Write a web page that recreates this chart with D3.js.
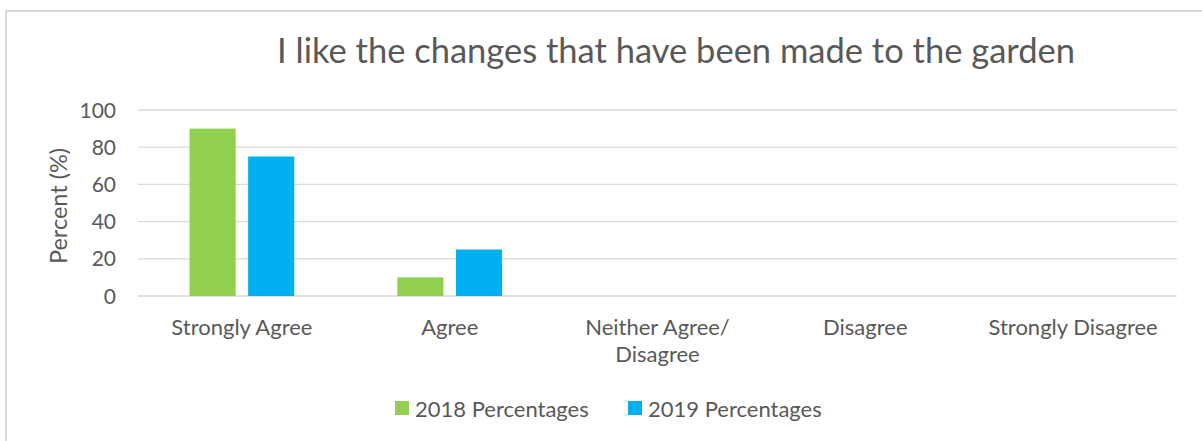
<!DOCTYPE html>
<html><head><meta charset="utf-8">
<script src="https://cdn.jsdelivr.net/npm/d3@7"></script>
<style>body{margin:0;background:#fff}svg{display:block}text{font-family:Lato,"Open Sans",sans-serif;fill:#595959}</style>
</head><body><svg id="c" width="1202" height="441"></svg>
<script>
const categories = [["Strongly Agree"], ["Agree"], ["Neither Agree/", "Disagree"], ["Disagree"], ["Strongly Disagree"]];
const seriesNames = ["2018 Percentages", "2019 Percentages"];
const seriesColors = ["#92d050", "#00b0f0"];
const values2018 = [90, 10, 0, 0, 0];
const values2019 = [75, 25, 0, 0, 0];
const yTicks = [0, 20, 40, 60, 80, 100];
const title = "I like the changes that have been made to the garden";
const yTitle = "Percent (%)";

const svg = d3.select("#c");
// chart border (left and top visible)
svg.append("path").attr("d","M6,441 V11 H1202").attr("fill","none").attr("stroke","#d9d9d9").attr("stroke-width",2);

const pL = 138, pR = 1177, pT = 110, pB = 296;
const x = d3.scaleBand().domain(d3.range(categories.length)).range([pL, pR]);
const y = d3.scaleLinear().domain([0, 100]).range([pB, pT]);

// gridlines
svg.append("g").selectAll("line").data(yTicks).join("line")
  .attr("x1", pL).attr("x2", pR).attr("y1", d=>y(d)).attr("y2", d=>y(d))
  .attr("stroke", "#d9d9d9").attr("stroke-width", 1.3);

// y ticks
svg.append("g").selectAll("text").data(yTicks).join("text")
  .attr("x", 116).attr("y", d=>y(d)).attr("dy","0.36em").attr("text-anchor","end")
  .attr("font-size", 21).text(d=>d);

// bars
const bw = x.bandwidth();
const barW = bw * 0.222, gap = barW * 0.27;
const series = [values2018, values2019];
series.forEach((vals, si) => {
  svg.append("g").selectAll("rect").data(vals).join("rect")
    .attr("x", (d,i)=> x(i) + bw/2 - barW - gap/2 + si*(barW+gap))
    .attr("width", barW)
    .attr("y", d=>y(d)).attr("height", d=>y(0)-y(d))
    .attr("fill", seriesColors[si]);
});

// category labels
const cl = svg.append("g");
categories.forEach((lines, i) => {
  const t = cl.append("text").attr("x", x(i)+bw/2).attr("y", 335).attr("text-anchor","middle").attr("font-size", 22);
  lines.forEach((l, k) => t.append("tspan").attr("x", x(i)+bw/2).attr("dy", k?27:0).text(l));
});

// title
svg.append("text").attr("x", 676).attr("y", 63).attr("text-anchor","middle").attr("font-size", 34.5).text(title);

// y title
svg.append("text").attr("transform","translate(67,206) rotate(-90)").attr("text-anchor","middle").attr("font-size", 23.5).text(yTitle);

// legend
const legX = [395, 628];
seriesNames.forEach((n, i) => {
  svg.append("rect").attr("x", legX[i]).attr("y", 401).attr("width", 14).attr("height", 14).attr("fill", seriesColors[i]);
  svg.append("text").attr("x", legX[i]+20).attr("y", 417).attr("font-size", 22).text(n);
});
</script></body></html>
